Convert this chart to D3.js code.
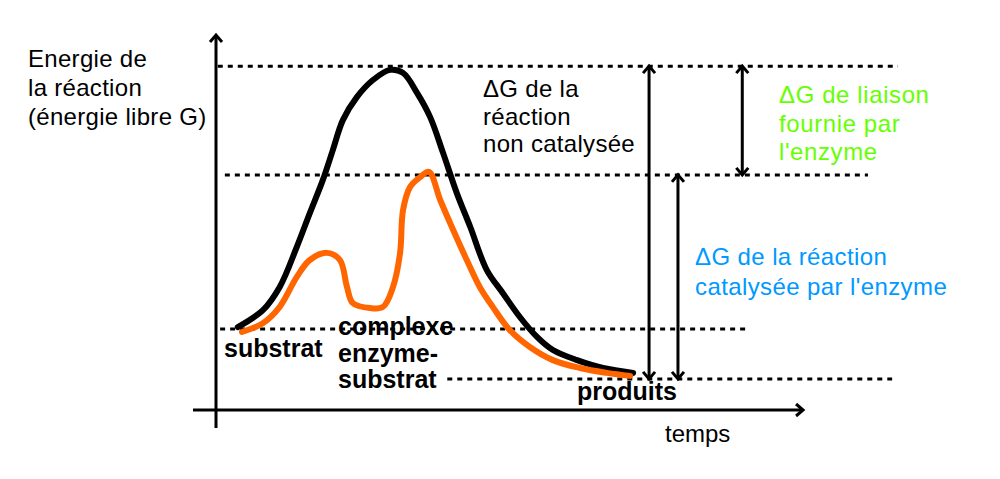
<!DOCTYPE html>
<html>
<head>
<meta charset="utf-8">
<script src="https://cdn.jsdelivr.net/npm/d3@7"></script>
<style>
  body { margin: 0; background: #fff; }
  text { font-family: "Liberation Sans", Arial, sans-serif; }
</style>
</head>
<body>
<div id="chart"></div>
<script>
var width = 1000;
var height = 479;

// courbe non catalysée (temps, énergie)
var tempsNonCat = [3.7, 8.0, 10.8, 13.7, 15.9, 18.1, 19.8, 21.5, 23.9, 26.6, 29.5, 31.7, 34.1, 36.3, 38.5, 40.8, 43.1, 45.9, 48.6, 51.5, 54.4, 57.1, 61.2, 65.6, 70.7];
var energieNonCat = [22.1, 26.7, 32.8, 43.5, 52.5, 61.3, 69.3, 77.3, 83.5, 88.0, 90.7, 89.9, 84.5, 78.1, 68.5, 57.9, 48.8, 37.3, 31.2, 24.8, 19.5, 16.0, 13.3, 11.2, 9.9];

// courbe catalysée par l'enzyme
var tempsCat = [4.4, 8.0, 10.8, 13.7, 15.9, 18.8, 21.0, 22.2, 23.2, 26.1, 28.3, 30.0, 31.2, 31.7, 32.9, 34.6, 36.1, 38.0, 40.2, 42.5, 44.7, 46.9, 49.8, 53.2, 57.1, 61.7, 66.3, 70.2];
var energieCat = [20.8, 23.2, 27.5, 35.5, 40.0, 41.9, 40.0, 32.8, 28.5, 27.2, 27.5, 32.8, 41.9, 53.3, 59.5, 62.1, 63.5, 56.0, 48.0, 40.0, 32.8, 27.5, 21.3, 16.8, 13.3, 11.2, 9.9, 9.1];

// niveaux d'énergie (lignes pointillées)
var niveaux = [91.7, 62.7, 21.6, 8.3];

// flèches ΔG : [niveau haut, niveau bas]
var fleches = [[0, 3], [1, 3], [0, 1]];

var xScale = d3.scaleLinear().domain([0, 100]).range([216, 806]);
var yScale = d3.scaleLinear().domain([0, 100]).range([410, 35]);

// étendue horizontale des pointillés et position des flèches (en unités de temps)
var etendues = [[0.3, 115.6], [1.5, 110.5], [0.7, 90.2], [39.2, 114.6]];
var flechesX = [73.4, 78.3, 89.2];

var svg = d3.select('#chart').append('svg')
    .attr("width", width)
    .attr("height", height);

// pointillés
svg.selectAll('line.niveau')
    .data(niveaux)
  .enter().append('line')
    .attr("class", "niveau")
    .attr("x1", function(d, i) { return xScale(etendues[i][0]); })
    .attr("x2", function(d, i) { return xScale(etendues[i][1]); })
    .attr("y1", function(d) { return yScale(d); })
    .attr("y2", function(d) { return yScale(d); })
    .attr("stroke", "#000")
    .attr("stroke-width", 3)
    .attr("stroke-dasharray", "5,5");

function chevron(x, y, dir) {
    // dir: 'up', 'down', 'right'
    var p;
    if (dir == 'up') p = [[x - 6, y + 7], [x, y], [x + 6, y + 7]];
    else if (dir == 'down') p = [[x - 6, y - 7], [x, y], [x + 6, y - 7]];
    else p = [[x - 7, y - 6], [x, y], [x - 7, y + 6]];
    svg.append('path')
        .attr("d", d3.line()(p))
        .attr("fill", "none")
        .attr("stroke", "#000")
        .attr("stroke-width", 3);
}

// axes
svg.append('line')
    .attr("x1", xScale(0)).attr("x2", xScale(0))
    .attr("y1", yScale(-4.8)).attr("y2", yScale(100))
    .attr("stroke", "#000").attr("stroke-width", 3);
chevron(xScale(0), yScale(100), 'up');

svg.append('line')
    .attr("x1", xScale(-3.9)).attr("x2", xScale(99.5))
    .attr("y1", yScale(0)).attr("y2", yScale(0))
    .attr("stroke", "#000").attr("stroke-width", 3);
chevron(xScale(99.5), yScale(0), 'right');

// flèches ΔG
fleches.forEach(function(f, i) {
    var x = xScale(flechesX[i]);
    var y1 = yScale(niveaux[f[0]]);
    var y2 = yScale(niveaux[f[1]]);
    svg.append('line')
        .attr("x1", x).attr("x2", x)
        .attr("y1", y1).attr("y2", y2)
        .attr("stroke", "#000").attr("stroke-width", 3);
    chevron(x, y1, 'up');
    chevron(x, y2, 'down');
});

// courbes
var line = d3.line()
    .x(function(d) { return xScale(d[0]); })
    .y(function(d) { return yScale(d[1]); })
    .curve(d3.curveCatmullRom.alpha(0.5));

svg.append('path')
    .attr("d", line(d3.zip(tempsNonCat, energieNonCat)))
    .attr("fill", "none")
    .attr("stroke", "#000")
    .attr("stroke-width", 6)
    .attr("stroke-linecap", "round");

svg.append('path')
    .attr("d", line(d3.zip(tempsCat, energieCat)))
    .attr("fill", "none")
    .attr("stroke", "#ff6600")
    .attr("stroke-width", 6)
    .attr("stroke-linecap", "round");

// textes
function bloc(lignes, x, y, dy, opts) {
    var t = svg.append('text')
        .attr("x", x).attr("y", y)
        .attr("font-size", opts.size || 24)
        .attr("font-weight", opts.bold ? "bold" : "normal")
        .attr("letter-spacing", opts.ls || 0)
        .attr("fill", opts.color || "#000");
    lignes.forEach(function(l, i) {
        t.append('tspan').attr("x", x).attr("y", y + i * dy).text(l);
    });
}

bloc(["Energie de", "la réaction", "(énergie libre G)"], 28, 67, 29, { ls: 0.3 });
bloc(["ΔG de la", "réaction", "non catalysée"], 483, 97, 27.5, { ls: 0.3 });
bloc(["ΔG de liaison", "fournie par", "l'enzyme"], 779, 103, 28.5, { color: "#66ff00", ls: 0.6 });
bloc(["ΔG de la réaction", "catalysée par l'enzyme"], 695, 265, 30, { color: "#0099ff", ls: 0.4 });
bloc(["substrat"], 224, 357, 0, { bold: true, size: 25 });
bloc(["complexe", "enzyme-", "substrat"], 338, 335, 26.5, { bold: true, size: 25 });
bloc(["produits"], 577, 400, 0, { bold: true, size: 25 });
bloc(["temps"], 665, 442, 0, {});
</script>
</body>
</html>
